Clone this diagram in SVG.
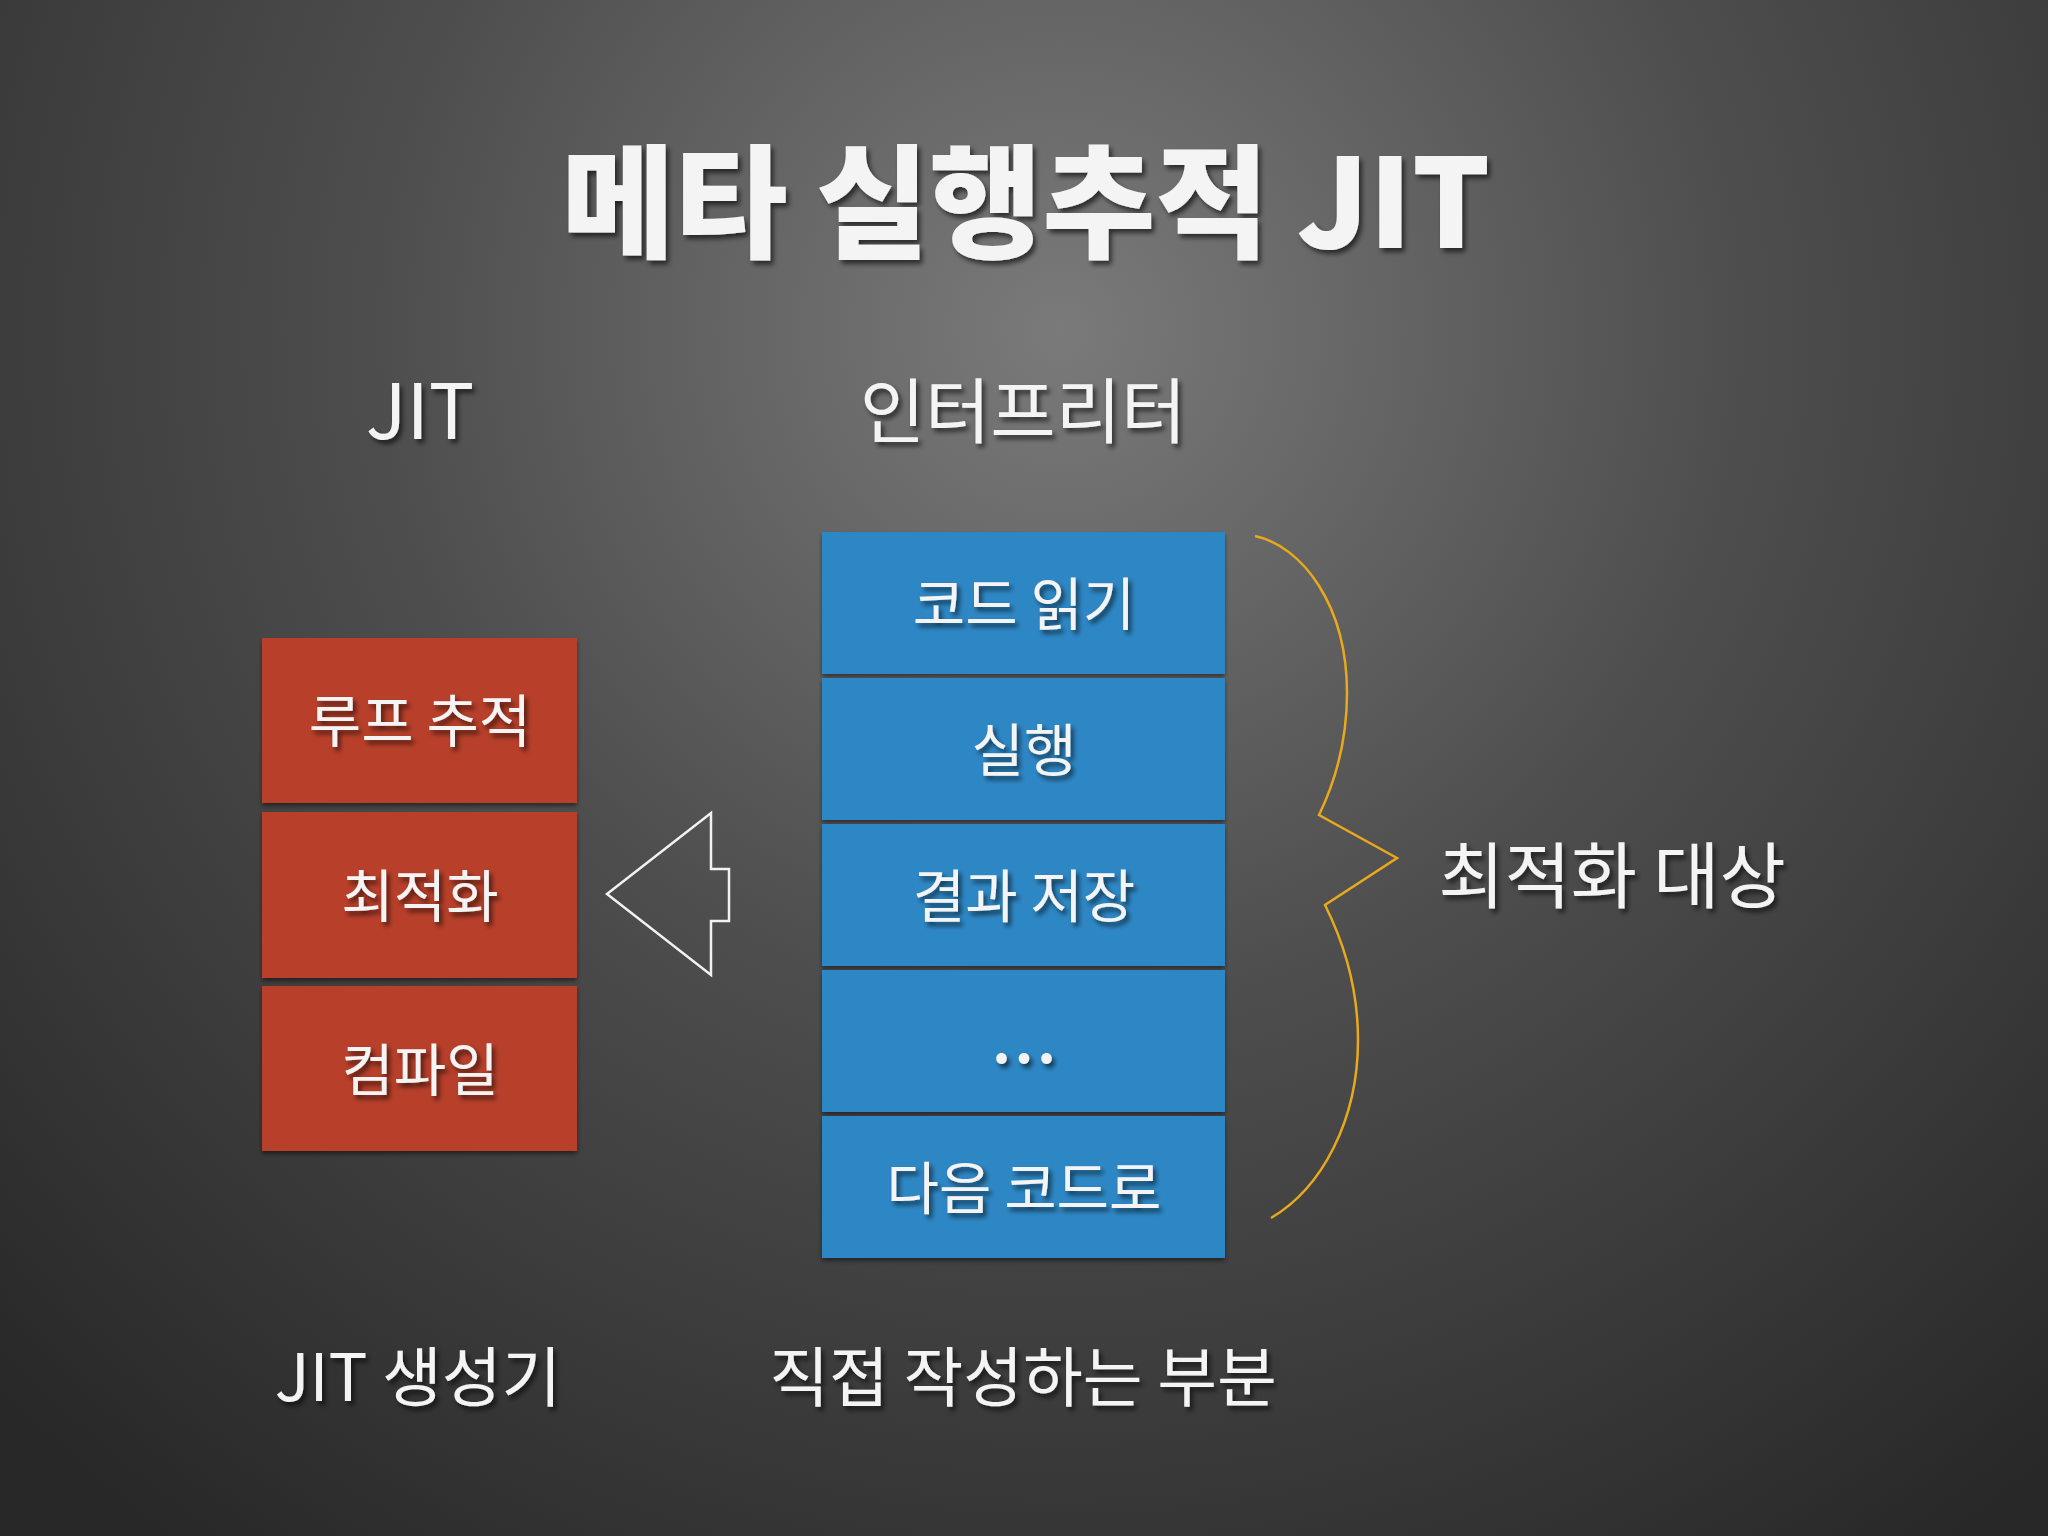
<svg xmlns="http://www.w3.org/2000/svg" width="2048" height="1536" viewBox="0 0 2048 1536">
  <defs>
    <radialGradient id="bg" gradientUnits="userSpaceOnUse" cx="1060" cy="330" r="1500">
      <stop offset="0" stop-color="#7a7a7a"/>
      <stop offset="0.45" stop-color="#4e4e4e"/>
      <stop offset="1" stop-color="#282828"/>
    </radialGradient>
    <filter id="ts" x="-20%" y="-30%" width="140%" height="160%">
      <feDropShadow dx="3" dy="4" stdDeviation="2.5" flood-color="#000" flood-opacity="0.6"/>
    </filter>
    <filter id="bs" x="-5%" y="-5%" width="110%" height="115%">
      <feDropShadow dx="0" dy="3" stdDeviation="2" flood-color="#000" flood-opacity="0.45"/>
    </filter>
    <style>
      .t { font-family: "Noto Sans CJK KR", "Noto Sans", sans-serif; fill: #f4f4f4; text-anchor: middle; filter: url(#ts); font-weight: 400; }
      .title { font-size: 123px; font-weight: 900; }
      .head { font-size: 71px; }
      .lab { font-size: 65px; }
      .box { font-size: 57px; }
      .red { fill: #b8402b; filter: url(#bs); }
      .blue { fill: #2f87c5; filter: url(#bs); }
      .line { fill: none; stroke: #f2f2f2; stroke-width: 2.5; stroke-linejoin: miter; }
      .brace { fill: none; stroke: #e8a91c; stroke-width: 2.5; stroke-linejoin: miter; }
    </style>
  </defs>

  <rect x="0" y="0" width="2048" height="1536" fill="url(#bg)"/>

  <g id="title">
    <text class="t title" x="1026" y="248">메타 실행추적 JIT</text>
  </g>

  <g id="heading-jit">
    <text class="t head" x="420" y="439" style="font-size:76px">JIT</text>
  </g>
  <g id="heading-interpreter">
    <text class="t head" x="1023" y="437">인터프리터</text>
  </g>

  <g id="jit-loop-trace">
    <rect class="red" x="262" y="638" width="315" height="165"/>
    <text class="t box" x="420" y="742">루프 추적</text>
  </g>
  <g id="jit-optimize">
    <rect class="red" x="262" y="812" width="315" height="166"/>
    <text class="t box" x="420" y="917">최적화</text>
  </g>
  <g id="jit-compile">
    <rect class="red" x="262" y="986" width="315" height="165"/>
    <text class="t box" x="420" y="1091">컴파일</text>
  </g>

  <g id="interp-read">
    <rect class="blue" x="822" y="532" width="403" height="142"/>
    <text class="t box" x="1024" y="625">코드 읽기</text>
  </g>
  <g id="interp-exec">
    <rect class="blue" x="822" y="678" width="403" height="142"/>
    <text class="t box" x="1024" y="771">실행</text>
  </g>
  <g id="interp-store">
    <rect class="blue" x="822" y="824" width="403" height="142"/>
    <text class="t box" x="1024" y="917">결과 저장</text>
  </g>
  <g id="interp-etc">
    <rect class="blue" x="822" y="970" width="403" height="142"/>
    <text class="t box" x="1026" y="1063" style="font-weight:700;letter-spacing:4px">...</text>
  </g>
  <g id="interp-next">
    <rect class="blue" x="822" y="1116" width="403" height="142"/>
    <text class="t box" x="1024" y="1209">다음 코드로</text>
  </g>

  <g id="connectors">
    <polygon class="line" points="607,894 711,813 711,869 729,869 729,921 711,921 711,975"/>
    <path class="brace" d="M1255,536 C1302,546 1347,605 1347,693 C1347,742 1335,782 1319,815 L1397,858 L1325,905 C1345,945 1358,990 1358,1040 C1358,1120 1322,1188 1271,1218"/>
  </g>

  <g id="optimize-target">
    <text class="t" style="font-size:72px" x="1612" y="902">최적화 대상</text>
  </g>

  <g id="label-jit-generator">
    <text class="t lab" x="418" y="1401">JIT 생성기</text>
  </g>
  <g id="label-handwritten">
    <text class="t lab" x="1023" y="1401">직접 작성하는 부분</text>
  </g>
</svg>
